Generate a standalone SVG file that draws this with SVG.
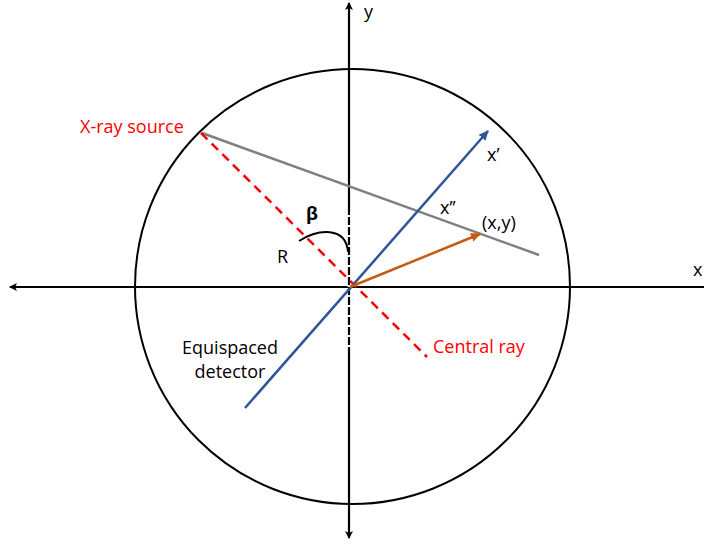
<svg xmlns="http://www.w3.org/2000/svg" width="704" height="544" viewBox="0 0 704 544">
<style>
text{font-family:"Open Sans","Liberation Sans",sans-serif;font-size:18px;fill:#000}
.red{fill:#ff0000}
.ax{stroke:#000;stroke-width:2.2;fill:none}
</style>
<defs>
<marker id="ak" markerWidth="10" markerHeight="10" refX="7" refY="5" orient="auto" markerUnits="userSpaceOnUse"><path d="M0,1 L8,5 L0,9 L2,5 Z" fill="#000"/></marker>
<marker id="ab" markerWidth="12" markerHeight="12" refX="9" refY="6" orient="auto" markerUnits="userSpaceOnUse"><path d="M0,1.5 L10,6 L0,10.5 Z" fill="#2f5597"/></marker>
<marker id="ao" markerWidth="12" markerHeight="12" refX="9" refY="6" orient="auto" markerUnits="userSpaceOnUse"><path d="M0,1.5 L10,6 L0,10.5 Z" fill="#c55a11"/></marker>
</defs>
<rect width="704" height="544" fill="#fff"/>
<g id="circle"><circle cx="352.5" cy="286.5" r="217.5" fill="none" stroke="#000" stroke-width="2"/></g>
<g id="connectors">
<line class="ax" x1="704" y1="287" x2="10" y2="287" marker-end="url(#ak)"/>
<line class="ax" x1="349" y1="287" x2="349" y2="3" marker-end="url(#ak)"/>
<line class="ax" x1="349" y1="287" x2="349" y2="538" marker-end="url(#ak)"/>
<line x1="349" y1="215" x2="349" y2="350" stroke="#fff" stroke-width="3" stroke-dasharray="2 8"/>
<line x1="202" y1="133" x2="539" y2="255" stroke="#808080" stroke-width="2.5"/>
<line x1="201" y1="133" x2="427" y2="357" stroke="#ff0000" stroke-width="2.5" stroke-dasharray="9 6"/>
<line x1="245" y1="408" x2="488" y2="131" stroke="#2f5597" stroke-width="2.5" marker-end="url(#ab)"/>
<line x1="350" y1="287" x2="480" y2="234" stroke="#c55a11" stroke-width="2.5" marker-end="url(#ao)"/>
<path d="M299,241 C318,229 346,226 348,252" fill="none" stroke="#000" stroke-width="2"/>
</g>
<g id="labels">
<text x="364" y="18">y</text>
<text x="693" y="276">x</text>
<text class="red" x="80" y="133">X-ray source</text>
<text x="487" y="161">x’</text>
<text x="440" y="214">x’’</text>
<text x="482" y="229">(x,y)</text>
<text x="306" y="220" font-weight="bold">β</text>
<text x="277" y="263">R</text>
<text x="230" y="354" text-anchor="middle">Equispaced</text>
<text x="230" y="378" text-anchor="middle">detector</text>
<text class="red" x="433" y="353">Central ray</text>
</g>
</svg>
